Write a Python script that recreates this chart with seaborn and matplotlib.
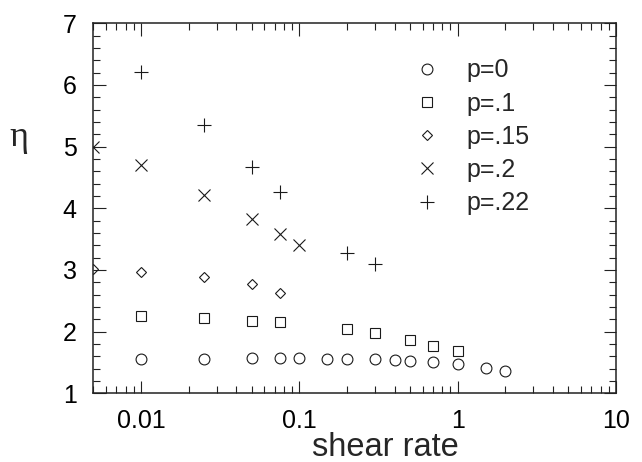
import matplotlib
matplotlib.use("Agg")
import matplotlib.pyplot as plt
import matplotlib.ticker as mticker
import seaborn as sns
import pandas as pd

# ---- data ----
x_p0 = [0.01, 0.025, 0.05, 0.075, 0.1, 0.15, 0.2, 0.3, 0.4, 0.5, 0.7, 1.0, 1.5, 2.0]
y_p0 = [1.56, 1.56, 1.58, 1.57, 1.58, 1.56, 1.56, 1.55, 1.54, 1.52, 1.50, 1.47, 1.41, 1.36]

x_p10 = [0.01, 0.025, 0.05, 0.075, 0.2, 0.3, 0.5, 0.7, 1.0]
y_p10 = [2.26, 2.22, 2.17, 2.15, 2.04, 1.97, 1.86, 1.77, 1.69]

x_p15 = [0.005, 0.01, 0.025, 0.05, 0.075]
y_p15 = [3.02, 2.96, 2.89, 2.78, 2.62]

x_p20 = [0.005, 0.01, 0.025, 0.05, 0.075, 0.1]
y_p20 = [5.00, 4.70, 4.22, 3.83, 3.58, 3.41]

x_p22 = [0.01, 0.025, 0.05, 0.075, 0.2, 0.3]
y_p22 = [6.21, 5.35, 4.67, 4.27, 3.28, 3.09]

labels = ["p=0", "p=.1", "p=.15", "p=.2", "p=.22"]
x_ticks = [0.01, 0.1, 1, 10]
x_ticklabels = ["0.01", "0.1", "1", "10"]
y_ticks = [1, 2, 3, 4, 5, 6, 7]

series = [(x_p0, y_p0), (x_p10, y_p10), (x_p15, y_p15), (x_p20, y_p20), (x_p22, y_p22)]

sns.set_style("ticks")
plt.rcParams["font.family"] = ["Liberation Sans", "DejaVu Sans"]

fig = plt.figure(figsize=(6.42, 4.62), dpi=100)
ax = fig.add_axes([93.3 / 642, 1 - 393.3 / 462, (616 - 93.3) / 642, (393.3 - 23.3) / 462])
ax.set_xscale("log")

marker_styles = [("o", 7.8), ("s", 7.6), ("D", 5.6), ("x", 8.8), ("+", 9.6)]
ink = "#1a1a1a"

for (xs, ys), lab, (mk, ms) in zip(series, labels, marker_styles):
    df = pd.DataFrame({"rate": xs, "eta": ys})
    sns.lineplot(data=df, x="rate", y="eta", ax=ax, marker=mk, markersize=ms,
                 linestyle="none", markerfacecolor="none", markeredgecolor=ink,
                 markeredgewidth=0.8, color=ink, errorbar=None, sort=False,
                 label=lab)

ax.set_xlim(0.005, 10)
ax.set_ylim(1, 7)
ax.set_xticks(x_ticks)
ax.set_xticklabels(x_ticklabels)
ax.xaxis.set_minor_locator(mticker.LogLocator(base=10, subs=range(2, 10), numticks=20))
ax.xaxis.set_minor_formatter(mticker.NullFormatter())
ax.set_yticks(y_ticks)
ax.yaxis.set_minor_locator(mticker.MultipleLocator(0.2))

ax.tick_params(which="both", direction="in", top=True, right=True, colors="#222222",
               labelcolor="black", width=0.8)
ax.tick_params(which="major", length=9, labelsize=18)
ax.tick_params(axis="x", which="major", pad=11)
ax.tick_params(axis="y", which="major", pad=12)
ax.tick_params(which="minor", length=4.8)
for sp in ax.spines.values():
    sp.set_visible(True)
    sp.set_linewidth(1.1)
    sp.set_color("#222222")

ax.set_xlabel("shear rate", fontsize=23.5, va="baseline")
ax.xaxis.set_label_coords(0.558, -0.169)
ax.set_ylabel("η", fontsize=26, rotation=0, va="baseline", ha="center",
              family=["Liberation Serif", "DejaVu Serif"])
ax.yaxis.set_label_coords(-0.142, 0.668)

leg = ax.legend(loc="upper left", bbox_to_anchor=(0.614, 0.905), frameon=False,
                fontsize=18, borderaxespad=0, borderpad=0, handlelength=1.0,
                handletextpad=1.1, labelspacing=0.37, numpoints=1)

fig.savefig("out.png", dpi=100)
